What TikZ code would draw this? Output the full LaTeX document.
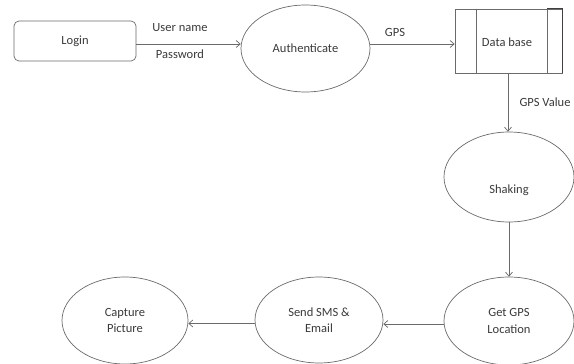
\documentclass[tikz,border=0pt]{standalone}
\usepackage{fontspec}
\setmainfont{Carlito}
\usetikzlibrary{shapes.geometric,arrows.meta}
\definecolor{ln}{HTML}{6A6A6A}
\definecolor{tx}{HTML}{3A3A3A}
\begin{document}
\begin{tikzpicture}[x=1pt,y=-1pt,
  font=\fontsize{12.5}{16.5}\selectfont, text=tx,
  proc/.style={ellipse, draw=ln, line width=0.7pt, inner sep=0pt, align=center},
  flow/.style={draw=ln, line width=0.7pt, -{Straight Barb[length=4pt,width=7pt]}},
  lbl/.style={inner sep=0pt}]
\useasboundingbox (0,0) rectangle (574,364);
\node[draw=ln, line width=0.7pt, rounded corners=5pt, minimum width=122pt, minimum height=40pt] (login) at (75,41) {Login};
\node[proc, minimum width=129pt, minimum height=87pt] (auth) at (305.5,48.5) {Authenticate};
\node[draw=ln, line width=0.7pt, minimum width=107pt, minimum height=64pt, inner sep=0pt] (db) at (508.5,41) {};
\node[lbl] (dbt) at (507,42) {Data base};
\draw[ln, line width=0.7pt] ([xshift=22pt]db.north west) -- ([xshift=22pt]db.south west);
\draw[ln, line width=0.7pt] ([xshift=-15pt]db.north east) -- ([xshift=-15pt]db.south east);
\draw[black!75, line width=1.3pt] ([xshift=-15pt]db.north east) -- (db.north east) -- (db.south east);
\node[proc, minimum width=130pt, minimum height=90pt, label={[yshift=-13pt,text=tx]center:Shaking}] (shake) at (509,177) {};
\node[proc, minimum width=130pt, minimum height=88pt] (gps) at (509,321) {Get GPS\\Location};
\node[proc, minimum width=128pt, minimum height=86pt] (sms) at (319,320) {Send SMS \&\\Email};
\node[proc, minimum width=126pt, minimum height=87pt] (cap) at (125,320.5) {Capture\\Picture};

\draw[flow] ([yshift=-3pt]login.east) -- ([yshift=-3pt]login.east -| auth.west);
\node[lbl] (un) at (180,28) {User name};
\node[lbl] (pw) at (180,54) {Password};
\draw[flow] ([yshift=4.5pt]auth.east) -- ([yshift=4.5pt]auth.east -| db.west);
\node[lbl] (gpsl) at (395,32) {GPS};
\draw[flow] ([xshift=-0.5pt]db.south) -- ([xshift=-0.5pt]db.south |- shake.north);
\node[lbl] (gpsv) at (545,102) {GPS Value};
\draw[flow] (shake.south) -- (gps.north);
\draw[flow] ([yshift=-3pt]gps.west) -- ([yshift=-3pt]gps.west -| sms.east);
\draw[flow] ([yshift=-3.5pt]sms.west) -- ([yshift=-3.5pt]sms.west -| cap.east);
\end{tikzpicture}
\end{document}
